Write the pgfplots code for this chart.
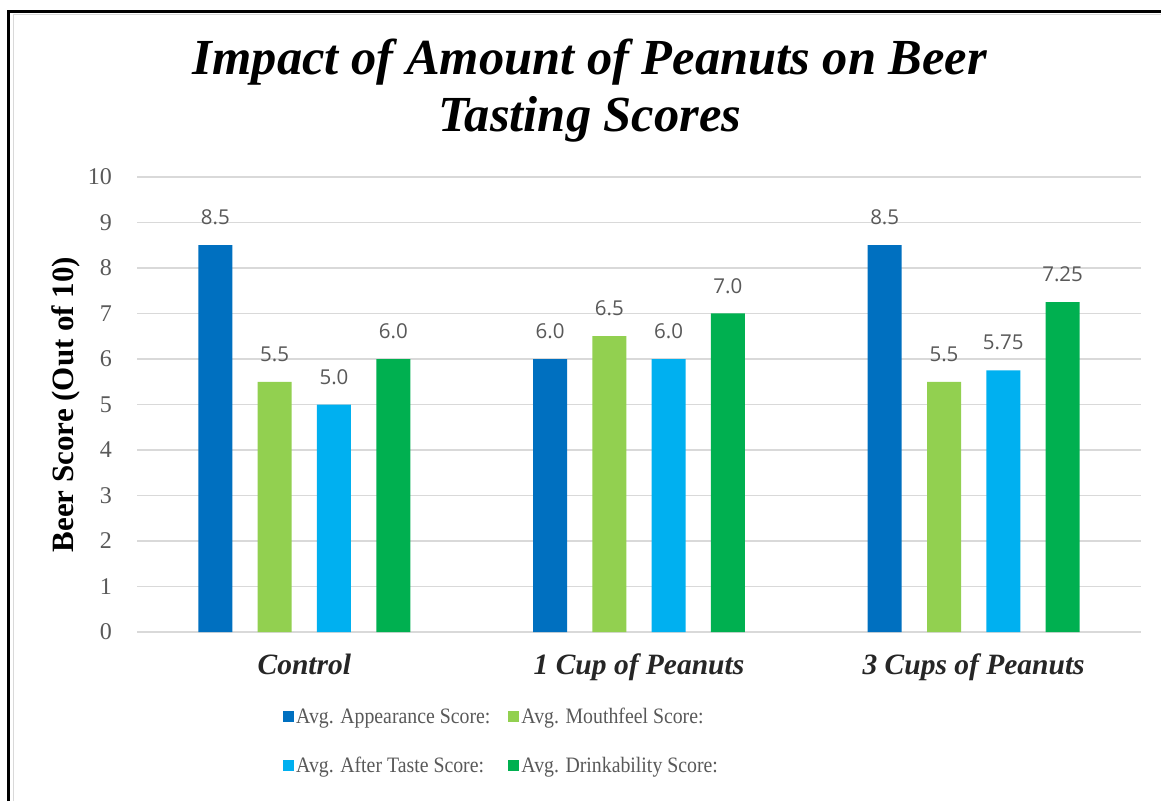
\documentclass[border=0pt]{standalone}
\usepackage{fontspec}
\setmainfont{Liberation Serif}
\newfontfamily\lab{Open Sans}
\newfontfamily\legf[FakeStretch=0.9]{Liberation Serif}
\usepackage{pgfplots}
\pgfplotsset{compat=1.18}
\definecolor{cA}{HTML}{0070C0}
\definecolor{cM}{HTML}{92D050}
\definecolor{cT}{HTML}{00B0F0}
\definecolor{cD}{HTML}{00B050}
\definecolor{txt}{HTML}{595959}
\definecolor{gridc}{HTML}{D9D9D9}
\begin{document}
\begin{tikzpicture}
\useasboundingbox (0pt,0pt) rectangle (1161pt,801pt);
\fill[white] (0pt,0pt) rectangle (1161pt,801pt);
\draw[gridc, line width=1pt] (13pt,0pt) -- (13pt,786pt) -- (1161pt,786pt);
\draw[black, line width=3pt] (8.5pt,0pt) -- (8.5pt,789.5pt) -- (1161pt,789.5pt);
\node[anchor=base, font=\fontsize{50.5}{50}\selectfont\bfseries\itshape] at (590pt,726pt) {Impact of Amount of Peanuts on Beer};
\node[anchor=base, font=\fontsize{50.5}{50}\selectfont\bfseries\itshape] at (590pt,669pt) {Tasting Scores};
\begin{axis}[
  at={(137pt,169pt)}, anchor=south west, scale only axis, width=1004pt, height=455pt,
  xmin=-0.5, xmax=2.5, ymin=0, ymax=10,
  xtick={0,1,2}, xticklabels={Control, 1 Cup of Peanuts, 3 Cups of Peanuts},
  ytick={0,1,...,10},
  /pgf/number format/assume math mode=true,
  major tick length=0pt,
  axis line style={draw=none},
  ymajorgrids, major grid style={draw=gridc, line width=1.3pt},
  ybar=25.3pt, bar width=34pt,
  yticklabel style={anchor=east, inner sep=0pt, xshift=-25pt, font=\fontsize{24}{24}\selectfont, text=txt},
  xticklabel style={anchor=base, inner sep=0pt, yshift=-42pt, font=\fontsize{29.5}{30}\selectfont\bfseries\itshape, text=black!85},
  ylabel={Beer Score (Out of 10)},
  ylabel style={at={(axis description cs:-0.0637,0.5)}, anchor=base, font=\fontsize{31}{31}\selectfont\bfseries},
  nodes near coords, point meta=explicit symbolic,
  every node near coord/.append style={anchor=south, inner sep=0pt, yshift=20pt, font=\lab\fontsize{20.5}{20}\selectfont, text=txt},
  legend columns=2,
  legend cell align=left,
  legend style={draw=none, fill=none, inner sep=0pt, font=\legf\fontsize{22}{22}\selectfont, text=txt,
    at={(axis description cs:0.1454,-0.163)}, anchor=north west,
    nodes={inner sep=2pt},
    /tikz/every even column/.append style={column sep=16pt},
    /tikz/row sep=28pt},
  legend image code/.code={\fill[#1] (0pt,-5.5pt) rectangle (11pt,6pt);},
]
\addplot[fill=cA, draw=none] coordinates {(0,8.5)[8.5] (1,6.0)[6.0] (2,8.5)[8.5]};
\addlegendentry{Avg. Appearance Score:}
\addplot[fill=cM, draw=none] coordinates {(0,5.5)[5.5] (1,6.5)[6.5] (2,5.5)[5.5]};
\addlegendentry{Avg. Mouthfeel Score:}
\addplot[fill=cT, draw=none] coordinates {(0,5.0)[5.0] (1,6.0)[6.0] (2,5.75)[5.75]};
\addlegendentry{Avg. After Taste Score:}
\addplot[fill=cD, draw=none] coordinates {(0,6.0)[6.0] (1,7.0)[7.0] (2,7.25)[7.25]};
\addlegendentry{Avg. Drinkability Score:}
\end{axis}
\end{tikzpicture}
\end{document}
